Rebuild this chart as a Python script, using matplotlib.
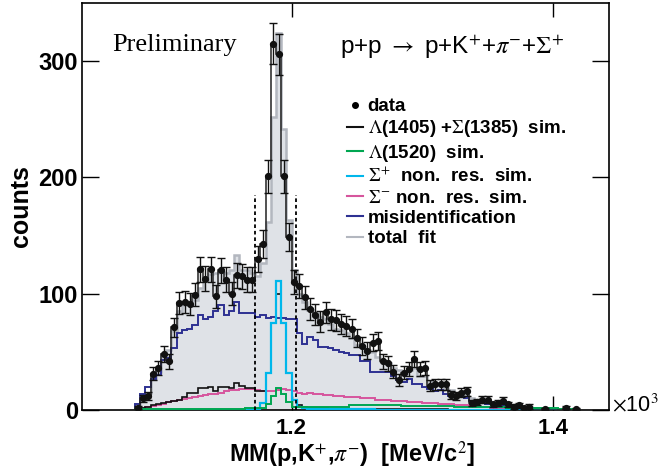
import numpy as np
import matplotlib
matplotlib.use("Agg")
import matplotlib.pyplot as plt
from matplotlib.lines import Line2D

plt.rcParams['font.family'] = ['Liberation Sans', 'DejaVu Sans']
plt.rcParams['mathtext.fontset'] = 'stix'

# bins: 4 MeV wide, first bin centre 1.082 GeV
bin_width = 0.004
first_edge = 1.080

# data (counts per bin)
data = [2, 10, 12, 31, 36, 48, 42, 71, 92, 93,
        91, 99, 121, 113, 121, 98, 120, 112, 100, 116,
        115, 112, 112, 130, 143, 201, 315, 306, 201, 149,
        110, 107, 97, 87, 82, 76, 84, 78, 77, 74,
        72, 70, 62, 55, 51, 58, 59, 42, 40, 33,
        26, 32, 35, 44, 35, 36, 21, 22, 22, 22,
        13, 12, 15, 16, 6, 7, 9, 9, 5, 6,
        8, 5, 3, 4, 2, 3, 0, 0, 1, 0,
        0, 0, 2, 0, 1]

# Lambda(1405) + Sigma(1385) sim.
lam1405 = [1, 2, 3, 4, 5, 6, 7, 8, 9, 11,
           15, 15, 19, 19, 20, 16, 20, 20, 19, 23,
           21, 19, 19, 16, 16, 32, 75, 100, 75, 32,
           9, 4, 3, 2, 2, 2, 2, 1, 1, 1,
           1, 1, 1, 1, 1, 1, 1, 1, 1, 1,
           1, 1, 1, 1, 1, 1, 1, 1, 1, 1,
           0, 0, 0, 0, 0, 0, 0, 0, 0, 0,
           0, 0, 0, 0, 0, 0, 0, 0, 0, 0,
           0, 0, 0, 0, 0]

# Lambda(1520) sim.
lam1520 = [0.5, 0.5, 0.5, 0.5, 0.5, 0.5, 0.5, 0.5, 0.5, 0.5,
           0.5, 1, 1, 1, 1, 1, 1, 1, 1, 1,
           1, 1.5, 1.5, 1.5, 1.5, 5, 12, 19, 14, 7,
           3, 3, 3, 3, 3, 3, 3, 3, 3, 3,
           3, 4, 4, 4, 4, 4, 4, 4, 4, 4,
           4, 3.5, 3.5, 3.5, 3.5, 3.5, 3.5, 3.5, 3.5, 3.5,
           3.5, 2.5, 2.5, 2.5, 2.5, 2.5, 2.5, 2.5, 2.5, 2.5,
           2.5, 1.5, 1.5, 1.5, 1.5, 1.5, 1.5, 1.5, 1.5, 1.5,
           1.5, 1, 1, 1, 1]

# Sigma+ non. res. sim.
sigp = [0, 0, 0, 0, 0, 0, 0, 0, 0, 0,
        0, 0, 0, 0, 0, 0, 0, 0, 0, 0,
        0, 0, 0.5, 1, 6, 32, 75, 111, 75, 32,
        9, 3, 2, 1, 1, 0.5, 0.5, 0.5, 0.5, 0.5,
        0.5, 0.5, 0.5, 0.5, 0.5, 0.5, 0, 0, 0, 0,
        0, 0, 0, 0, 0, 0, 0, 0, 0, 0,
        0, 0, 0, 0, 0, 0, 0, 0, 0, 0,
        0, 0, 0, 0, 0, 0, 0, 0, 0, 0,
        0, 0, 0, 0, 0]

# Sigma- non. res. sim.
sigm = [0.5, 1.5, 2.5, 3.5, 4.5, 5.5, 6.5, 7.5, 8.5, 9.5,
        10.5, 11, 12, 13, 14, 14, 15, 16, 17, 17,
        18, 18, 18, 17, 16, 16, 16, 17, 18, 17,
        16, 15, 14, 15, 14, 14, 13, 13, 12, 12,
        11, 11, 11, 10, 10, 10, 9, 9, 9, 8,
        8, 8, 7, 7, 7, 6, 6, 6, 5, 5,
        5, 4, 4, 4, 3, 3, 3, 3, 2, 2,
        2, 2, 2, 1.5, 1.5, 1, 1, 1, 1, 0.5,
        0.5, 0.5, 0.5, 0.5, 0.5]

# misidentification
misid = [5, 14, 20, 27, 30, 43, 45, 53, 66, 69,
         70, 73, 82, 78, 80, 85, 90, 82, 85, 93,
         83, 83, 83, 80, 82, 79, 80, 79, 79, 78,
         78, 66, 57, 63, 60, 54, 54, 53, 52, 50,
         49, 47, 47, 42, 42, 33, 33, 33, 33, 29,
         26, 24, 27, 22, 22, 20, 18, 16, 17, 14,
         12, 11, 11, 10, 8, 6, 6, 5, 5, 4,
         4, 3, 3, 3, 2, 2, 2, 2, 1, 1,
         1, 1, 1, 1, 0]

# total fit
total = [4, 9, 15, 27, 33, 48, 52, 68, 85, 90,
         91, 95, 105, 112, 117, 118, 119, 118, 120, 133,
         120, 120, 118, 115, 126, 162, 252, 324, 242, 163,
         120, 100, 93, 86, 83, 80, 78, 74, 70, 69,
         66, 62, 56, 54, 52, 50, 46, 42, 40, 36,
         34, 32, 34, 36, 29, 29, 25, 23, 22, 19,
         17, 15, 13, 12, 10, 9, 8, 7, 6, 5,
         5, 4, 4, 3, 3, 3, 2, 2, 2, 2,
         1, 1, 1, 1, 1]

# signal window
window = [1.172, 1.203]

edges = first_edge + bin_width * np.arange(len(data) + 1)
centers = 0.5 * (edges[1:] + edges[:-1])

fig = plt.figure(figsize=(6.63, 4.74), dpi=100)
ax = fig.add_axes([82 / 663, 64 / 474, 527 / 663, 407 / 474])

c_black = '#111111'
c_green = '#00a651'
c_cyan = '#00b7eb'
c_mag = '#d6559d'
c_blue = '#2e3192'
c_grey = '#b3b7bf'
c_fill = '#dfe2e7'

ax.stairs(total, edges, fill=True, color=c_fill, zorder=1)
ax.stairs(total, edges, color=c_grey, lw=1.8, zorder=2)
ax.stairs(misid, edges, color=c_blue, lw=1.4, zorder=3)
ax.stairs(sigm, edges, color=c_mag, lw=1.4, zorder=3)
ax.stairs(lam1405, edges, color=c_black, lw=1.2, zorder=4)
ax.stairs(sigp, edges, color=c_cyan, lw=1.6, zorder=4.5)
ax.stairs(lam1520, edges, color=c_green, lw=1.4, zorder=4.6)

ax.vlines(window, 0, 185, colors='k', linestyles=(0, (2, 1.6)), lw=1.3, zorder=5)

d = np.array(data, dtype=float)
ax.stairs(d, edges, color='#222222', lw=1.1, zorder=6)
m = d > 0
ax.errorbar(centers[m], d[m], yerr=np.sqrt(d[m]), fmt='o', color='#111111',
            ms=4.2, capsize=3, elinewidth=1.0, capthick=1.0, zorder=7)

ax.set_xlim(1.0395, 1.443)
ax.set_ylim(0, 350)
ax.set_xticks([1.2, 1.4])
ax.set_xticklabels(['1.2', '1.4'], fontsize=16, fontweight='bold')
ax.set_yticks([0, 100, 200, 300])
ax.set_yticklabels(['0', '100', '200', '300'], fontsize=17, fontweight='bold')
ax.tick_params(axis='both', direction='in', top=True, right=True, width=1.0)
ax.tick_params(axis='y', length=12, pad=3)
ax.tick_params(axis='x', length=10, pad=6)
for s in ax.spines.values():
    s.set_linewidth(1.2)

fig.text(112 / 663, 1 - 45 / 474, 'Preliminary', family='Liberation Serif',
         fontsize=19, va='center', ha='left')
fig.text(340 / 663, 1 - 47 / 474,
         r'p+p $\rightarrow$ p+K$^{+}$+$\pi^{-}$+$\Sigma^{+}$',
         fontsize=17.5, va='center', ha='left')

handles = [
    Line2D([], [], ls='none', marker='o', color='k', ms=4),
    Line2D([], [], color=c_black, lw=1.5),
    Line2D([], [], color=c_green, lw=1.5),
    Line2D([], [], color=c_cyan, lw=1.5),
    Line2D([], [], color=c_mag, lw=1.5),
    Line2D([], [], color=c_blue, lw=1.5),
    Line2D([], [], color=c_grey, lw=1.5),
]
labels = [
    'data',
    r'$\Lambda$(1405) +$\Sigma$(1385)  sim.',
    r'$\Lambda$(1520)  sim.',
    r'$\Sigma^{+}$  non.  res.  sim.',
    r'$\Sigma^{-}$ non.  res.  sim.',
    'misidentification',
    'total  fit',
]
leg = ax.legend(handles, labels, loc='upper left',
                bbox_to_anchor=((347 - 82) / 527, (410 - 98) / 407),
                frameon=False, borderpad=0, borderaxespad=0,
                handlelength=0.85, handletextpad=0.25, labelspacing=0.17,
                prop={'size': 13.5, 'weight': 'bold'})

fig.text(612 / 663, 1 - 405 / 474, r'$\times$10$^{3}$', fontsize=15.5,
         ha='left', va='center')
fig.text(352 / 663, 1 - 455 / 474,
         r'MM(p,K$^{+}$,$\pi^{-}$)  [MeV/c$^{2}$]',
         fontsize=17, fontweight='bold', ha='center', va='center')
fig.text(21 / 663, 1 - 206 / 474, 'counts', fontsize=18, fontweight='bold',
         rotation=90, ha='center', va='center')

fig.savefig('out.png', dpi=100)
